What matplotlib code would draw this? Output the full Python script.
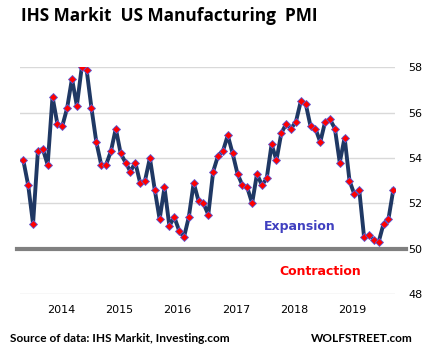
import matplotlib
matplotlib.use("Agg")
import matplotlib.pyplot as plt
import numpy as np

# monthly PMI readings, Jul 2013 - Nov 2019
pmi = [53.9, 52.8, 51.1, 54.3, 54.4, 53.7, 56.7, 55.5, 55.4, 56.2,
       57.5, 56.3, 58.0, 57.9, 56.2, 54.7, 53.7, 53.7, 54.3, 55.3,
       54.2, 53.8, 53.4, 53.8, 52.9, 53.0, 54.0, 52.6, 51.3, 52.7,
       51.0, 51.4, 50.8, 50.5, 51.4, 52.9, 52.1, 52.0, 51.5, 53.4,
       54.1, 54.3, 55.0, 54.2, 53.3, 52.8, 52.7, 52.0, 53.3, 52.8,
       53.1, 54.6, 53.9, 55.1, 55.5, 55.3, 55.6, 56.5, 56.4, 55.4,
       55.3, 54.7, 55.6, 55.7, 55.3, 53.8, 54.9, 53.0, 52.4, 52.6,
       50.5, 50.6, 50.4, 50.3, 51.1, 51.3, 52.6]
year_labels = ["2014", "2015", "2016", "2017", "2018", "2019"]
year_pos = [7.7, 19.7, 31.7, 43.7, 55.6, 67.6]
y_ticks = [48, 50, 52, 54, 56, 58]

fig = plt.figure(figsize=(4.32, 3.56), dpi=100)
ax = fig.add_axes([20/432, 1 - 294/356, 375/432, (294 - 67.3)/356])

x = np.arange(len(pmi))
ax.plot(x, pmi, color="#1f3864", lw=2.8, zorder=3,
        marker="D", markersize=4.2, markerfacecolor="#ff0000",
        markeredgecolor="#5b5bd6", markeredgewidth=0.6)

ax.set_xlim(-0.68, 76.35)
ax.set_ylim(48, 58)
ax.set_yticks(y_ticks)
ax.set_yticklabels([str(v) for v in y_ticks])
ax.yaxis.tick_right()
ax.set_xticks(year_pos)
ax.set_xticklabels(year_labels)
ax.tick_params(length=0, labelsize=8, colors="#000000")
ax.tick_params(axis="y", pad=9.5)
ax.tick_params(axis="x", pad=8)
for s in ax.spines.values():
    s.set_visible(False)
ax.grid(axis="y", color="#d9d9d9", lw=1, zorder=0)
ax.axhline(50, xmin=-0.008, xmax=1.03, color="#808080", lw=3, zorder=2, clip_on=False)

fig.text(300/432, 1 - 227/356, "Expansion", fontsize=9, fontweight="bold",
         color="#4040c0", ha="center", va="center")
fig.text(320/432, 1 - 271.7/356, "Contraction", fontsize=9, fontweight="bold",
         color="#ff0000", ha="center", va="center")

fig.text(21/432, 1 - 16/356, "IHS Markit  US Manufacturing  PMI", fontsize=12.4,
         fontweight="bold", family="Open Sans", ha="left", va="center")
fig.text(10/432, 1 - 338/356, "Source of data: IHS Markit, Investing.com", fontsize=8.6,
         fontweight="bold", family="Lato", ha="left", va="center")
fig.text(413/432, 1 - 338/356, "WOLFSTREET.com", fontsize=8.5,
         fontweight="bold", family="Lato", ha="right", va="center")

fig.savefig("out.png", dpi=100)
